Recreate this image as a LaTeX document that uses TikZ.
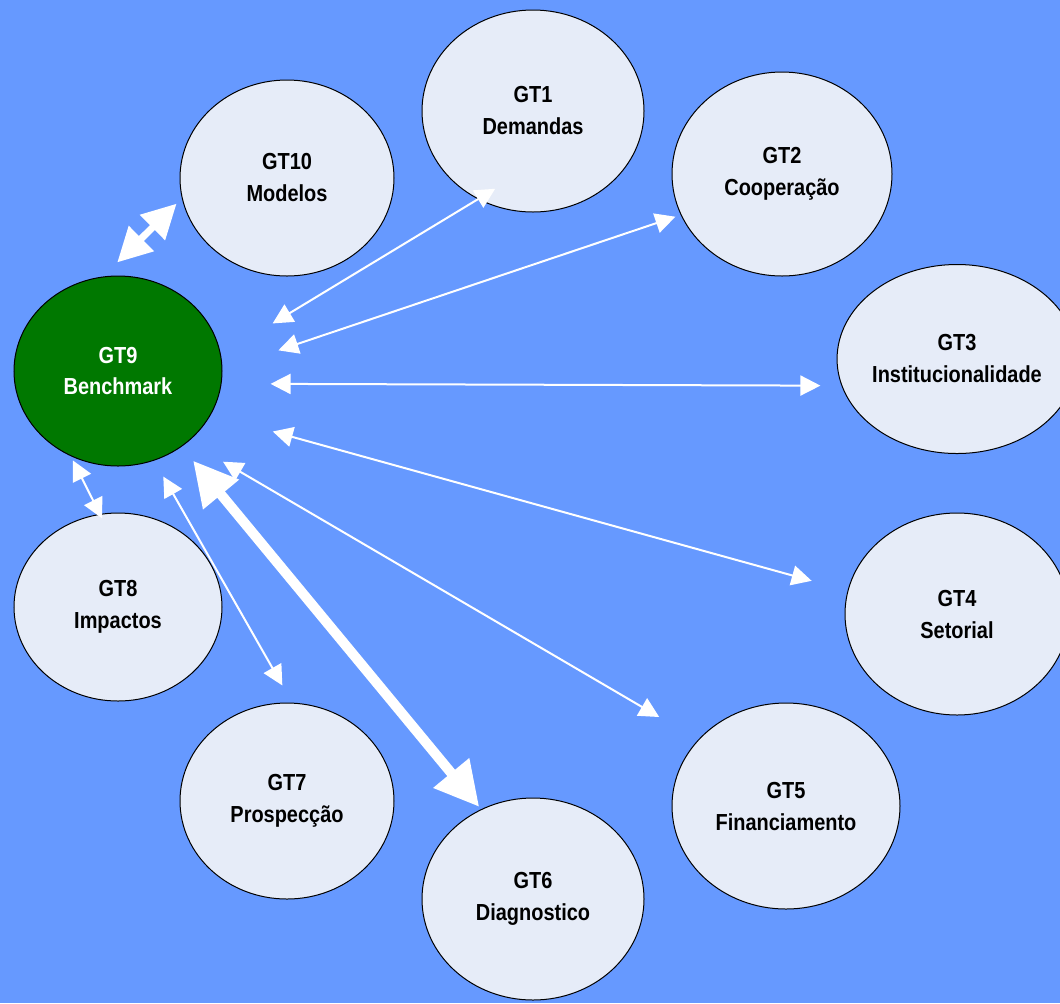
\documentclass[tikz,border=0pt]{standalone}
\usepackage{fontspec}
\newfontfamily\gtfont{Liberation Sans}[FakeStretch=0.86]
\usepackage{xcolor}
\usepackage{tikz}
\usetikzlibrary{arrows.meta,shapes.geometric}

\definecolor{fundo}{RGB}{102,153,255}
\definecolor{bolha}{RGB}{230,236,248}
\definecolor{verde}{RGB}{0,120,0}

\begin{document}
\begin{tikzpicture}[x=0.5pt,y=-0.5pt,
    grupo/.style={ellipse, draw=black, line width=0.5pt, fill=bolha, align=center, inner sep=0pt,
        font={\gtfont\bfseries\fontsize{11.6}{16}\selectfont}},
    seta/.style={white, line width=1pt,
        {Triangle[length=10pt,width=10pt]}-{Triangle[length=10pt,width=10pt]}},
    setamedia/.style={white, line width=3.5pt,
        {Triangle[length=17pt,width=17pt]}-{Triangle[length=17pt,width=17pt]}},
    setagrossa/.style={white, line width=5pt,
        {Triangle[length=22pt,width=22pt]}-{Triangle[length=22pt,width=22pt]}}]

    % Background
    \fill[fundo] (0,0) rectangle (1060,1003);
    \useasboundingbox (0,0) rectangle (1060,1003);

    % Central group
    \node[grupo, fill=verde, text=white, minimum width=104pt, minimum height=95pt] (gt9) at (118,371) {GT9\\Benchmark};

    % Groups around it
    \foreach \nome/\x/\y/\w/\h/\texto in {
        gt10/287/178/214/196/{GT10\\Modelos},
        gt1/533/111/222/202/{GT1\\Demandas},
        gt2/782/174/220/204/{GT2\\Cooperação},
        gt3/957/359/226/189/{GT3\\Institucionalidade},
        gt4/957/614/224/202/{GT4\\Setorial},
        gt5/786/806/228/206/{GT5\\Financiamento},
        gt6/533/899/222/202/{GT6\\Diagnostico},
        gt7/287/801/214/196/{GT7\\Prospecção},
        gt8/118/607/208/188/{GT8\\Impactos}} {
        \node[grupo, minimum width=\w*0.5pt, minimum height=\h*0.5pt] (\nome) at (\x,\y) {\texto};
    }

    % Links from GT9
    \draw[setamedia, shorten <=10pt, shorten >=3.7pt] (gt9.99) -- (gt10.191);
    \draw[seta, shorten <=30.2pt, shorten >=-10.1pt] (gt9.9) -- (gt1.238);
    \draw[seta, shorten <=29.5pt, shorten >=2.8pt] (gt9.1) -- (gt2.202);
    \draw[seta, shorten <=24.5pt, shorten >=10.5pt] (gt9.353) -- (gt3.193);
    \draw[seta, shorten <=32pt, shorten >=18.6pt] (gt9.335) -- (gt4.168);
    \draw[seta, shorten <=20pt, shorten >=22.5pt] (gt9.315) -- (gt5.143);
    \draw[setagrossa, shorten <=9pt, shorten >=1.5pt] (gt9.310) -- (gt6.120);
    \draw[seta, shorten <=9.2pt, shorten >=9.9pt] (gt9.292) -- (gt7.87);
    \draw[seta, shorten <=2.4pt, shorten >=-2.5pt] (gt9.241) -- (gt8.101);
\end{tikzpicture}
\end{document}
